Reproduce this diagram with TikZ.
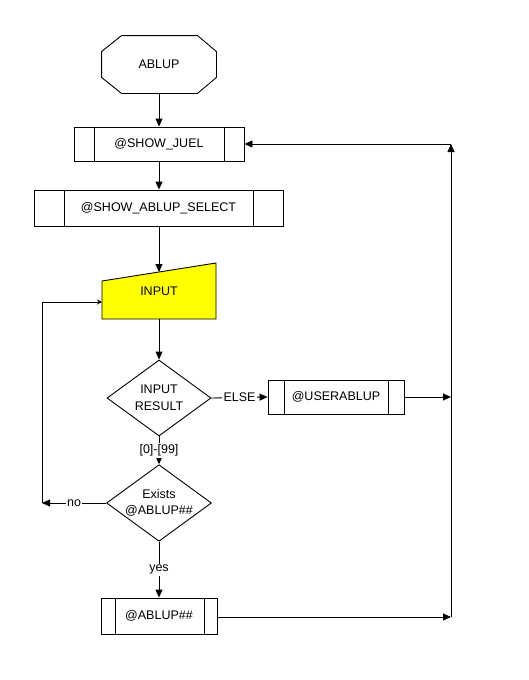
\documentclass[tikz,border=0pt]{standalone}
\usepackage{fontspec}
\setmainfont{Liberation Sans}
\usetikzlibrary{arrows.meta,shapes.geometric,calc}
\begin{document}
\begin{tikzpicture}[x=1pt,y=-1pt,
  line width=0.9pt,
  every node/.style={font=\fontsize{12.5}{16.5}\selectfont},
  tip/.style={-{Triangle[length=8pt,width=7pt]}},
  smalltip/.style={-{Stealth[length=5pt,width=5pt]}},
  proc/.style={draw, rectangle, inner sep=0pt},
  dec/.style={draw, diamond, aspect=1.37, inner sep=0pt, minimum width=104pt, minimum height=76pt, align=center},
  lbl/.style={fill=white, inner sep=1.5pt}]
\useasboundingbox (0,0) rectangle (529,680);

% start octagon
\node[inner sep=0pt, minimum width=114pt, minimum height=57pt] (start) at (159,64.5) {ABLUP};
\draw ($(start.north west)+(0,16)$) -- ($(start.north west)+(20,0)$)
  -- ($(start.north east)+(-19,0)$) -- ($(start.north east)+(0,16)$)
  -- ($(start.south east)+(0,-16)$) -- ($(start.south east)+(-19,0)$)
  -- ($(start.south west)+(20,0)$) -- ($(start.south west)+(0,-16)$) -- cycle;

% SHOW_JUEL
\node[proc, minimum width=170pt, minimum height=34pt] (juel) at (159,144) {@SHOW\_JUEL};
\draw ([xshift=21pt]juel.north west) -- ([xshift=21pt]juel.south west);
\draw ([xshift=-20pt]juel.north east) -- ([xshift=-20pt]juel.south east);

% SHOW_ABLUP_SELECT
\node[proc, minimum width=249pt, minimum height=36pt] (sel) at (158.5,208) {@SHOW\_ABLUP\_SELECT};
\draw ([xshift=31pt]sel.north west) -- ([xshift=31pt]sel.south west);
\draw ([xshift=-30pt]sel.north east) -- ([xshift=-30pt]sel.south east);

% INPUT (manual input)
\coordinate (inTL) at (102,281);
\coordinate (inTR) at (216,263);
\coordinate (inBR) at (216,319);
\coordinate (inBL) at (102,319);
\coordinate (inTop) at (159,272);
\coordinate (inBot) at (159,319);
\coordinate (inLeft) at (102,302);
\draw[fill={rgb,255:red,255;green,255;blue,0}] (inTL) -- (inTR) -- (inBR) -- (inBL) -- cycle;
\node (input) at (159,291) {INPUT};

% INPUT RESULT
\node[dec] (res) at (159,398) {INPUT\\RESULT};

% USERABLUP
\node[proc, minimum width=136pt, minimum height=34pt] (user) at (336,397) {@USERABLUP};
\draw ([xshift=17pt]user.north west) -- ([xshift=17pt]user.south west);
\draw ([xshift=-16pt]user.north east) -- ([xshift=-16pt]user.south east);

% Exists
\node[dec] (ex) at (159,503) {Exists\\@ABLUP\#\#};

% ABLUP##
\node[proc, minimum width=116pt, minimum height=36pt] (abl) at (159,616) {@ABLUP\#\#};
\draw ([xshift=15pt]abl.north west) -- ([xshift=15pt]abl.south west);
\draw ([xshift=-13pt]abl.north east) -- ([xshift=-13pt]abl.south east);

% connector coordinates
\coordinate (rc1) at (451,397);
\coordinate (rc2) at (451,617);
\coordinate (rtop) at (451,144);
\coordinate (lc1) at (42,503);
\coordinate (lc2) at (42,302);

% connectors
\draw[tip] (start.south) -- (juel.north);
\draw[tip] (juel.south) -- (juel.south |- sel.north);
\draw[tip] (sel.south -| juel.south) -- (inTop);
\draw[tip] (inBot) -- (res.north);
\draw[tip] (res.east) -- node[lbl] {ELSE} (user.west);
\draw[tip] (res.south) -- node[lbl] {[0]-[99]} (ex.north);
\draw[tip] (ex.south) -- node[lbl, pos=0.5] {yes} (abl.north);
\draw[tip] (ex.west) -- node[lbl] {no} (lc1);
\draw[smalltip] (lc1) -- (lc2) -- (inLeft);
\draw[tip] (user.east) -- (rc1);
\draw[tip] (abl.east |- rc2) -- (rc2);
\draw[tip] (rc2) -- (rtop);
\draw[tip] (rtop) -- (juel.east);
\end{tikzpicture}
\end{document}
